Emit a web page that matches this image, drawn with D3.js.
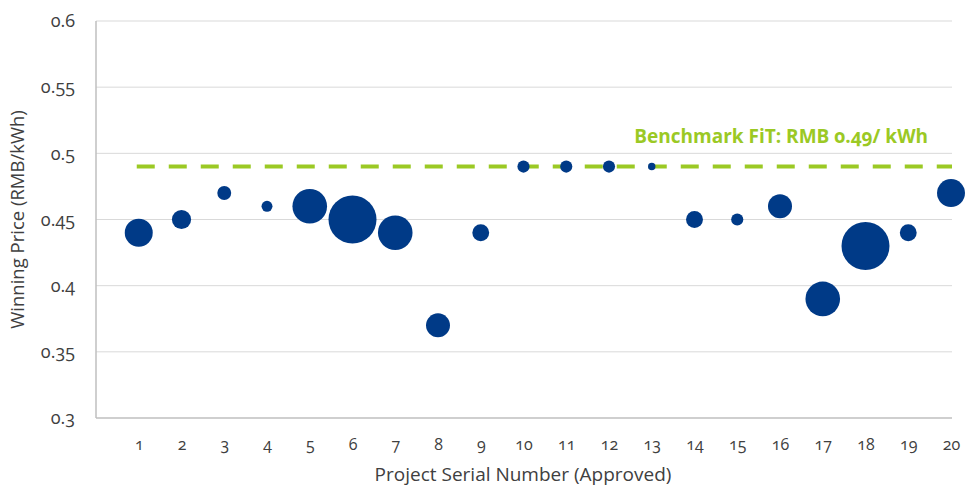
<!DOCTYPE html>
<html>
<head>
<meta charset="utf-8">
<script src="https://cdn.jsdelivr.net/npm/d3@7"></script>
<style>
  body { margin: 0; background: #fff; overflow: hidden; }
  text { font-family: "Open Sans", Lato, sans-serif; font-variant-numeric: oldstyle-nums; }
</style>
</head>
<body>
<div id="chart-area"></div>
<script>
// project serial numbers, winning prices (RMB/kWh), bubble sizes (relative capacity)
let projects = d3.range(1, 21);
let prices = [0.44, 0.45, 0.47, 0.46, 0.46, 0.45, 0.44, 0.37, 0.44, 0.49,
              0.49, 0.49, 0.49, 0.45, 0.45, 0.46, 0.39, 0.43, 0.44, 0.47];
let sizes = [170, 80, 42, 26, 260, 500, 260, 125, 62, 32,
             32, 32, 12, 62, 32, 125, 260, 500, 62, 170];
let yTicks = [0.3, 0.35, 0.4, 0.45, 0.5, 0.55, 0.6];
let benchmark = 0.49;

let width = 965, height = 488;
let margin = { left: 96, right: 13, top: 21, bottom: 70 };

let svg = d3.select("#chart-area")
    .append("svg")
    .attr("width", width)
    .attr("height", height)
    .style("display", "block");

let x = d3.scaleLinear()
    .domain([0, 20])
    .range([margin.left, width - margin.right - 1]);

let y = d3.scaleLinear()
    .domain([0.3, 0.6])
    .range([height - margin.bottom, margin.top]);

let r = d3.scaleSqrt()
    .domain([0, 500])
    .range([0, 24]);

// gridlines
svg.append("g")
    .selectAll("line")
    .data(yTicks.slice(1))
    .enter().append("line")
    .attr("x1", margin.left)
    .attr("x2", width - margin.right)
    .attr("y1", d => y(d))
    .attr("y2", d => y(d))
    .attr("stroke", "#d9d9d9")
    .attr("stroke-width", 1);

// axes frame
svg.append("line")
    .attr("x1", margin.left).attr("x2", margin.left)
    .attr("y1", y(0.6)).attr("y2", y(0.3))
    .attr("stroke", "#bfbfbf").attr("stroke-width", 1.5);
svg.append("line")
    .attr("x1", margin.left).attr("x2", width - margin.right)
    .attr("y1", y(0.3)).attr("y2", y(0.3))
    .attr("stroke", "#bfbfbf").attr("stroke-width", 1.5);

// y tick labels
let yAxis = d3.axisLeft(y)
    .tickValues(yTicks)
    .tickSize(0)
    .tickPadding(21)
    .tickFormat(d => d3.format("")(+d.toFixed(2)));
let gy = svg.append("g")
    .attr("transform", `translate(${margin.left},0)`)
    .call(yAxis);
gy.select(".domain").remove();
gy.selectAll("text")
    .attr("fill", "#404040")
    .style("font-size", "18px");

// x tick labels
let xAxis = d3.axisBottom(x)
    .tickValues(projects)
    .tickSize(0)
    .tickPadding(21)
    .tickFormat(d3.format("d"));
let gx = svg.append("g")
    .attr("transform", `translate(0,${y(0.3)})`)
    .call(xAxis);
gx.select(".domain").remove();
gx.selectAll("text")
    .attr("fill", "#404040")
    .style("font-size", "16px");

// axis titles
svg.append("text")
    .attr("x", 523)
    .attr("y", 481)
    .attr("text-anchor", "middle")
    .attr("fill", "#404040")
    .style("font-size", "19px")
    .text("Project Serial Number (Approved)");

svg.append("text")
    .attr("transform", `translate(24,${(y(0.6) + y(0.3)) / 2}) rotate(-90)`)
    .attr("text-anchor", "middle")
    .attr("fill", "#404040")
    .style("font-size", "18.5px")
    .text("Winning Price (RMB/kWh)");

// benchmark line
svg.append("line")
    .attr("x1", x(1) - 2)
    .attr("x2", x(20) + 1)
    .attr("y1", y(benchmark))
    .attr("y2", y(benchmark))
    .attr("stroke", "#9bc924")
    .attr("stroke-width", 4)
    .attr("stroke-dasharray", "18,14");

svg.append("text")
    .attr("x", 928)
    .attr("y", 143)
    .attr("text-anchor", "end")
    .attr("fill", "#9bc924")
    .style("font-size", "19px")
    .style("font-weight", "bold")
    .text("Benchmark FiT: RMB 0.49/ kWh");

// bubbles
svg.append("g")
    .selectAll("circle")
    .data(projects)
    .enter().append("circle")
    .attr("cx", d => x(d))
    .attr("cy", (d, i) => y(prices[i]))
    .attr("r", (d, i) => r(sizes[i]))
    .attr("fill", "#003a87");
</script>
</body>
</html>
